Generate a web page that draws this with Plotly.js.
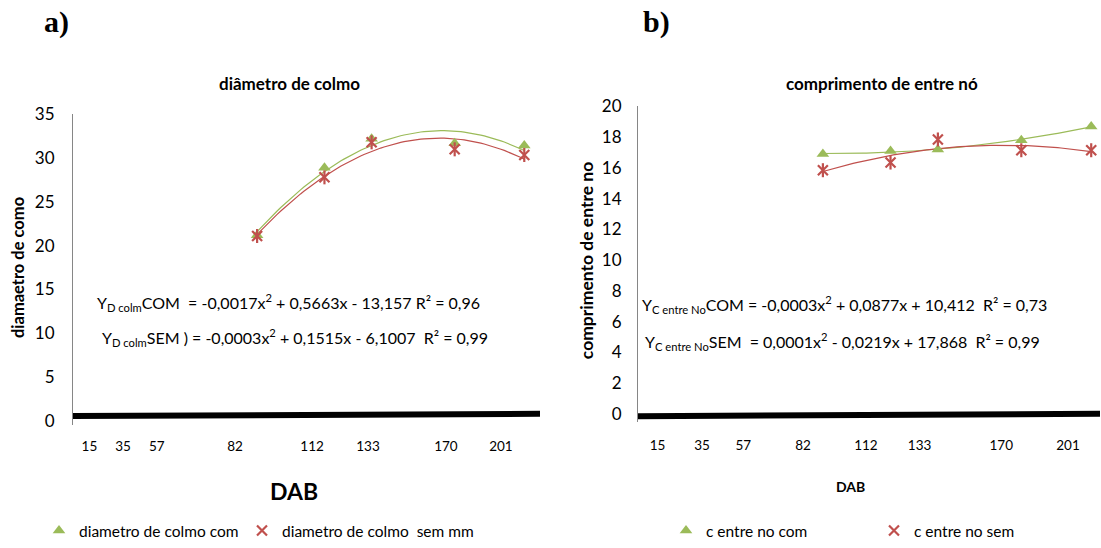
<!DOCTYPE html>
<html>
<head>
<meta charset="utf-8">
<script src="https://cdn.plot.ly/plotly-3.0.1.min.js"></script>
<style>html,body{margin:0;padding:0;background:#fff}#chart{width:1101px;height:548px}</style>
</head>
<body>
<div id="chart"></div>
<script>
// ---- data ----
const dab = [82, 112, 133, 170, 201];
const diamCom = [21.2, 28.9, 32.2, 31.7, 31.45];
const diamSem = [21.1, 27.8, 31.8, 31.0, 30.35];
const entreCom = [16.9, 17.1, 17.2, 17.8, 18.7];
const entreSem = [15.85, 16.35, 17.85, 17.15, 17.15];
const tickLabels = ['15', '35', '57', '82', '112', '133', '170', '201'];
const baselineLeftX = [0, 208];
const baselineLeftY = [0.53, 0.79];
const baselineRightX = [0, 205];
const baselineRightY = [-0.15, 0];

// ---- layout config (positions of hand-placed tick labels on the axes) ----
const tickPosLeft = [7.3, 22.3, 37.3, 72.2, 106.5, 131.4, 166.1, 190.6];
const tickPosRight = [8.7, 28.4, 46.7, 73.2, 101.1, 124.9, 161.1, 190.7];

const GREEN = '#9BBB59', RED = '#C0504D';
const FONT = 'Lato, "Noto Sans", sans-serif';

// quadratic least-squares trendline computed from the data (as the spreadsheet did)
function polyfit2(xs, ys) {
  let s = [0,0,0,0,0], t = [0,0,0];
  for (let i = 0; i < xs.length; i++) {
    let p = 1;
    for (let k = 0; k < 5; k++) { s[k] += p; if (k < 3) t[k] += p * ys[i]; p *= xs[i]; }
  }
  const A = [[s[0], s[1], s[2], t[0]], [s[1], s[2], s[3], t[1]], [s[2], s[3], s[4], t[2]]];
  for (let i = 0; i < 3; i++) {
    for (let j = i + 1; j < 3; j++) {
      const f = A[j][i] / A[i][i];
      for (let k = i; k < 4; k++) A[j][k] -= f * A[i][k];
    }
  }
  const c = [0,0,0];
  for (let i = 2; i >= 0; i--) {
    let v = A[i][3];
    for (let k = i + 1; k < 3; k++) v -= A[i][k] * c[k];
    c[i] = v / A[i][i];
  }
  return c;
}
function trend(xs, ys) {
  const c = polyfit2(xs, ys);
  const x0 = Math.min(...xs), x1 = Math.max(...xs), n = 80;
  const tx = [], ty = [];
  for (let i = 0; i <= n; i++) {
    const x = x0 + (x1 - x0) * i / n;
    tx.push(x); ty.push(c[0] + c[1] * x + c[2] * x * x);
  }
  return {x: tx, y: ty};
}

const tDc = trend(dab, diamCom), tDs = trend(dab, diamSem);
const tEc = trend(dab, entreCom), tEs = trend(dab, entreSem);

const triMarker = {symbol: 'triangle-up', size: 11, color: GREEN};
const xMarker = {symbol: 'x-thin-open', size: 10, color: RED, line: {color: RED, width: 2.2}};
const vMarker = {symbol: 'line-ns-open', size: 10, color: RED, line: {color: RED, width: 2.2}};

const traces = [
  // left
  {x: baselineLeftX, y: baselineLeftY, xaxis: 'x', yaxis: 'y', mode: 'lines', line: {color: '#000', width: 6}, showlegend: false, hoverinfo: 'skip'},
  {x: tDc.x, y: tDc.y, xaxis: 'x', yaxis: 'y', mode: 'lines', line: {color: GREEN, width: 1.2}, showlegend: false, hoverinfo: 'skip'},
  {x: tDs.x, y: tDs.y, xaxis: 'x', yaxis: 'y', mode: 'lines', line: {color: RED, width: 1.2}, showlegend: false, hoverinfo: 'skip'},
  {x: dab, y: diamCom, xaxis: 'x', yaxis: 'y', mode: 'markers', marker: triMarker, name: 'diametro de colmo com', legend: 'legend', cliponaxis: false},
  {x: dab, y: diamSem, xaxis: 'x', yaxis: 'y', mode: 'markers', marker: xMarker, name: 'diametro de colmo  sem mm', legend: 'legend2', cliponaxis: false},
  {x: dab, y: diamSem, xaxis: 'x', yaxis: 'y', mode: 'markers', marker: vMarker, showlegend: false, cliponaxis: false, hoverinfo: 'skip'},
  // right
  {x: baselineRightX, y: baselineRightY, xaxis: 'x2', yaxis: 'y2', mode: 'lines', line: {color: '#000', width: 6}, showlegend: false, hoverinfo: 'skip'},
  {x: tEc.x, y: tEc.y, xaxis: 'x2', yaxis: 'y2', mode: 'lines', line: {color: GREEN, width: 1.2}, showlegend: false, hoverinfo: 'skip'},
  {x: tEs.x, y: tEs.y, xaxis: 'x2', yaxis: 'y2', mode: 'lines', line: {color: RED, width: 1.2}, showlegend: false, hoverinfo: 'skip'},
  {x: dab, y: entreCom, xaxis: 'x2', yaxis: 'y2', mode: 'markers', marker: triMarker, name: 'c entre no com', legend: 'legend3', cliponaxis: false},
  {x: dab, y: entreSem, xaxis: 'x2', yaxis: 'y2', mode: 'markers', marker: xMarker, name: 'c entre no sem', legend: 'legend4', cliponaxis: false},
  {x: dab, y: entreSem, xaxis: 'x2', yaxis: 'y2', mode: 'markers', marker: vMarker, showlegend: false, cliponaxis: false, hoverinfo: 'skip'}
];

const W = 1101, H = 548;
const xaxisBase = {showline: false, showgrid: false, zeroline: false, ticks: '', tickmode: 'array', ticktext: tickLabels,
  tickfont: {family: FONT, size: 13.5, color: '#000'}, fixedrange: true};
const yaxisBase = {showline: true, linecolor: '#868686', linewidth: 1, showgrid: false, zeroline: false, ticks: '',
  tickfont: {family: FONT, size: 17, color: '#000'}, fixedrange: true};
const eqFont = {family: FONT, size: 16, color: '#000'};
function leg(xpx) {
  return {orientation: 'h', x: xpx / W, y: 9 / H, xanchor: 'left', yanchor: 'middle',
    font: {family: FONT, size: 15.5, color: '#000'}, bgcolor: 'rgba(0,0,0,0)', itemclick: false, itemdoubleclick: false};
}

const layout = {
  width: W, height: H,
  margin: {l: 0, r: 0, t: 0, b: 0},
  paper_bgcolor: '#fff', plot_bgcolor: 'rgba(0,0,0,0)',
  font: {family: FONT, color: '#000'},
  xaxis: Object.assign({}, xaxisBase, {domain: [73 / W, 540 / W], range: [0, 208], anchor: 'y', tickvals: tickPosLeft, ticklabelstandoff: 11}),
  yaxis: Object.assign({}, yaxisBase, {domain: [(H - 431.4) / H, (H - 116) / H], range: [-0.5, 35], dtick: 5, tick0: 0, anchor: 'x', ticklabelstandoff: 14}),
  xaxis2: Object.assign({}, xaxisBase, {domain: [638 / W, 1100 / W], range: [0, 204.9], anchor: 'y2', tickvals: tickPosRight, ticklabelstandoff: 14}),
  yaxis2: Object.assign({}, yaxisBase, {domain: [(H - 427.8) / H, (H - 108) / H], range: [-0.5, 20], dtick: 2, tick0: 0, anchor: 'x2', ticklabelstandoff: 12}),
  legend: leg(39),
  legend2: leg(242),
  legend3: leg(666),
  legend4: leg(874),
  annotations: [
    {text: '<b>a)</b>', xref: 'paper', yref: 'paper', x: 56 / W, y: (H - 22) / H, xanchor: 'center', yanchor: 'middle', showarrow: false,
      font: {family: '"Liberation Serif", "DejaVu Serif", serif', size: 30, color: '#000'}},
    {text: '<b>b)</b>', xref: 'paper', yref: 'paper', x: 656 / W, y: (H - 22) / H, xanchor: 'center', yanchor: 'middle', showarrow: false,
      font: {family: '"Liberation Serif", "DejaVu Serif", serif', size: 30, color: '#000'}},
    {text: '<b>diâmetro de colmo</b>', xref: 'paper', yref: 'paper', x: 289 / W, y: (H - 85) / H, xanchor: 'center', yanchor: 'middle', showarrow: false,
      font: {family: FONT, size: 17, color: '#000'}},
    {text: '<b>comprimento de entre nó</b>', xref: 'paper', yref: 'paper', x: 784 / W, y: (H - 85) / H, xanchor: 'left', yanchor: 'middle', showarrow: false,
      font: {family: FONT, size: 17, color: '#000'}},
    {text: '<b>DAB</b>', xref: 'paper', yref: 'paper', x: 294 / W, y: (H - 498) / H, xanchor: 'center', yanchor: 'middle', showarrow: false,
      font: {family: FONT, size: 23, color: '#000'}},
    {text: '<b>DAB</b>', xref: 'paper', yref: 'paper', x: 850 / W, y: (H - 494) / H, xanchor: 'center', yanchor: 'middle', showarrow: false,
      font: {family: FONT, size: 14, color: '#000'}},
    {text: '<b>diamaetro de como</b>', xref: 'paper', yref: 'paper', x: 18 / W, y: (H - 272) / H, xanchor: 'center', yanchor: 'middle', showarrow: false,
      textangle: -90, font: {family: FONT, size: 16.5, color: '#000'}},
    {text: '<b>comprimento de entre no</b>', xref: 'paper', yref: 'paper', x: 586 / W, y: (H - 265) / H, xanchor: 'center', yanchor: 'middle', showarrow: false,
      textangle: -90, font: {family: FONT, size: 17.5, color: '#000'}},
    {text: 'Y<sub>D colm</sub>COM  = -0,0017x<sup>2</sup> + 0,5663x - 13,157 R² = 0,96', xref: 'paper', yref: 'paper', x: 95 / W, y: (H - 307) / H,
      xanchor: 'left', yanchor: 'middle', showarrow: false, font: eqFont},
    {text: 'Y<sub>D colm</sub>SEM ) = -0,0003x<sup>2</sup> + 0,1515x - 6,1007  R² = 0,99', xref: 'paper', yref: 'paper', x: 100 / W, y: (H - 343) / H,
      xanchor: 'left', yanchor: 'middle', showarrow: false, font: eqFont},
    {text: 'Y<sub>C entre No</sub>COM = -0,0003x<sup>2</sup> + 0,0877x + 10,412  R² = 0,73', xref: 'paper', yref: 'paper', x: 640 / W, y: (H - 309) / H,
      xanchor: 'left', yanchor: 'middle', showarrow: false, font: eqFont},
    {text: 'Y<sub>C entre No</sub>SEM  = 0,0001x<sup>2</sup> - 0,0219x + 17,868  R² = 0,99', xref: 'paper', yref: 'paper', x: 643 / W, y: (H - 347) / H,
      xanchor: 'left', yanchor: 'middle', showarrow: false, font: eqFont}
  ]
};

Plotly.newPlot('chart', traces, layout, {staticPlot: true, displayModeBar: false});
</script>
</body>
</html>
